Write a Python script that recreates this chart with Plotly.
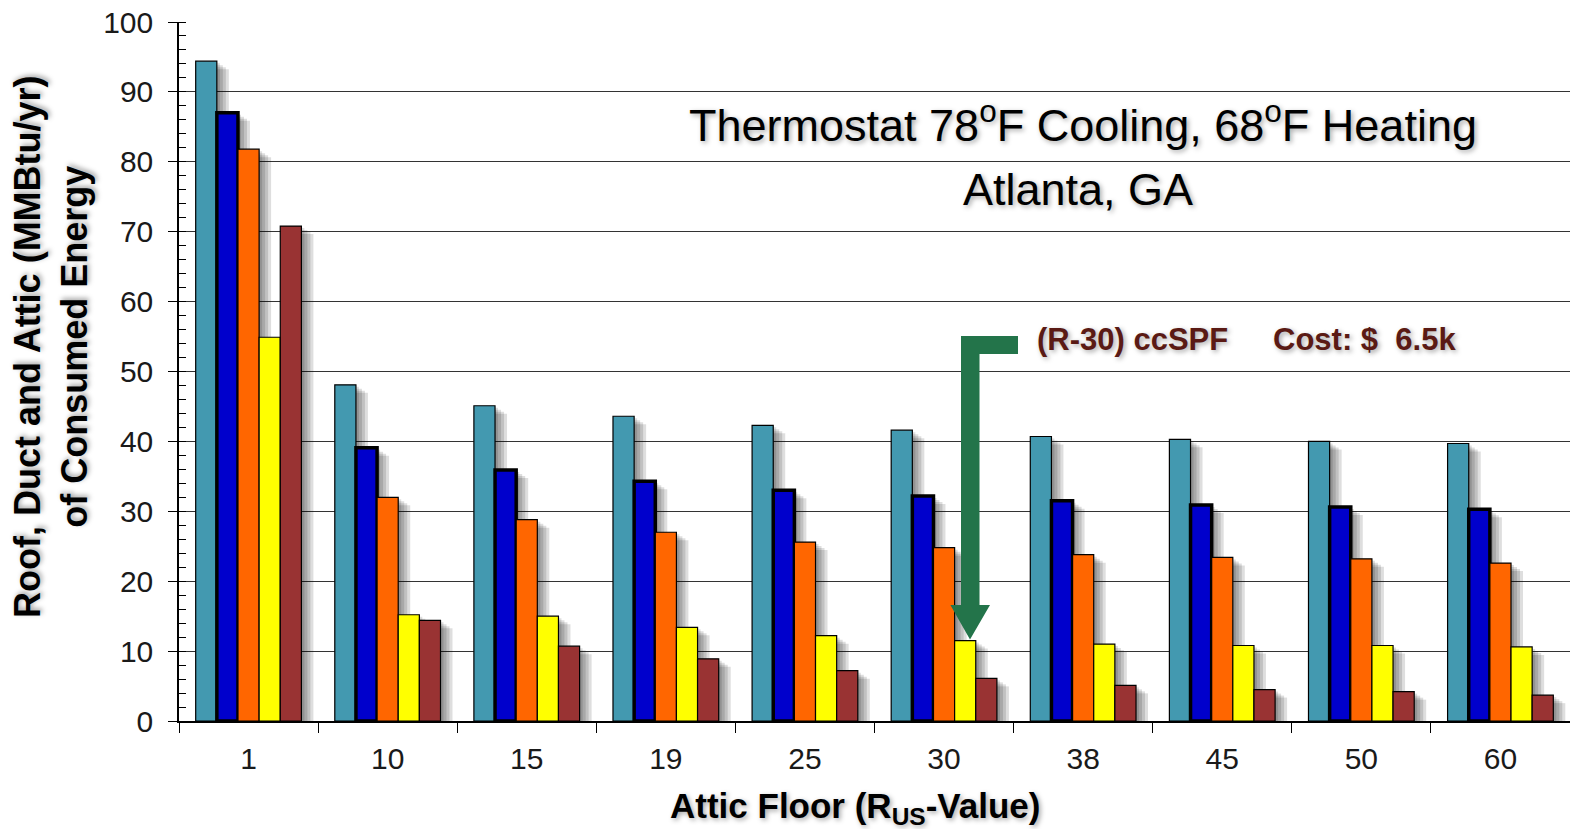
import plotly.graph_objects as go

categories = ["1", "10", "15", "19", "25", "30", "38", "45", "50", "60"]
teal_vals = [94.4, 48.1, 45.1, 43.6, 42.3, 41.6, 40.7, 40.3, 40.0, 39.7]
blue_vals = [87.0, 39.1, 35.9, 34.3, 33.0, 32.2, 31.5, 30.9, 30.6, 30.3]
orange_vals = [81.8, 32.0, 28.8, 27.0, 25.6, 24.8, 23.8, 23.4, 23.2, 22.6]
yellow_vals = [54.9, 15.2, 15.0, 13.4, 12.2, 11.5, 11.0, 10.8, 10.8, 10.6]
brown_vals = [70.8, 14.4, 10.7, 8.9, 7.2, 6.1, 5.1, 4.5, 4.2, 3.7]

series = [
    (teal_vals, "#4399b0", 1.2),
    (blue_vals, "#0000cc", 3.5),
    (orange_vals, "#ff6600", 1.2),
    (yellow_vals, "#ffff00", 1.2),
    (brown_vals, "#993333", 1.2),
]

W, H = 1570, 829
ML, MR, MT, MB = 179, 0, 22, 108
PW = W - ML - MR
PH = H - MT - MB
YMAX = 100
ncat = len(categories)
cat_px = PW / ncat

group_w = 0.76
bw = group_w / len(series)

fig = go.Figure()

# soft drop shadows (layers)
for k, (dx, dy) in enumerate([(3, 2), (6, 4), (9, 6), (12, 8)]):
    for i, (vals, col, lw) in enumerate(series):
        off = -group_w / 2 + i * bw + dx / cat_px
        fig.add_trace(go.Bar(
            x=categories, y=[max(v - dy * YMAX / PH, 0) for v in vals],
            width=bw, offset=off,
            marker=dict(color="rgba(0,0,0,0.13)", line=dict(width=0)),
            hoverinfo="skip", showlegend=False,
        ))

for i, (vals, col, lw) in enumerate(series):
    off = -group_w / 2 + i * bw
    fig.add_trace(go.Bar(
        x=categories, y=vals, width=bw, offset=off,
        marker=dict(color=col, line=dict(color="black", width=lw)),
        showlegend=False,
    ))


def px2paper_x(px):
    return (px - ML) / PW


def px2paper_y(py):
    return (H - MB - py) / PH


def px2data_y(py):
    return (H - MB - py) / PH * YMAX


# green elbow arrow
pts = [(961, 336), (1018, 336), (1018, 354), (979.5, 354), (979.5, 605),
       (990, 605), (970, 639.5), (950.4, 605), (961, 605)]
path = "M " + " L ".join(f"{px2paper_x(x):.5f},{px2data_y(y):.4f}" for x, y in pts) + " Z"
shapes = [dict(type="path", path=path, xref="paper", yref="y",
               fillcolor="#23744a", line=dict(width=0), layer="above")]

SH = "2px 2px 5px rgba(0,0,0,0.35)"
FAM = "Liberation Sans, Arial, sans-serif"


def ann(text, px, py, size, color="black", xanchor="center", angle=0, shadow=SH):
    return dict(text=text, x=px2paper_x(px), y=px2paper_y(py), xref="paper", yref="paper",
                xanchor=xanchor, yanchor="middle", textangle=angle, showarrow=False,
                font=dict(size=size, color=color, family=FAM, shadow=shadow))


annotations = [
    ann("Thermostat 78<sup>o</sup>F Cooling, 68<sup>o</sup>F Heating", 1083, 122, 45),
    ann("Atlanta, GA", 1078, 190, 45),
    ann("<b>(R-30) ccSPF</b>", 1035, 339, 31, color="#5a1a14", xanchor="left"),
    ann("<b>Cost: $&nbsp;&nbsp;6.5k</b>", 1271, 339, 31, color="#5a1a14", xanchor="left"),
    ann("<b>Roof, Duct and Attic (MMBtu/yr)<br>of Consumed Energy</b>", 51, 347, 36, angle=-90),
    ann("<b>Attic Floor (R<sub>US</sub>-Value)</b>", 855, 808, 35),
]

fig.update_layout(
    width=W, height=H,
    margin=dict(l=ML, r=MR, t=MT, b=MB),
    paper_bgcolor="white", plot_bgcolor="white",
    barmode="overlay",
    font=dict(family=FAM, color="#1a1a1a"),
    shapes=shapes, annotations=annotations,
    xaxis=dict(type="category", categoryorder="array", categoryarray=categories,
               range=[-0.5, ncat - 0.5], showgrid=False, showline=True,
               linecolor="black", linewidth=1.5, ticks="outside", tickson="boundaries",
               ticklen=10, tickcolor="black", tickwidth=1.2,
               tickfont=dict(size=30, color="#1a1a1a"), ticklabelstandoff=10),
    yaxis=dict(range=[0, YMAX], dtick=10, showgrid=True, gridcolor="#333333",
               gridwidth=1.2, showline=True, linecolor="black", linewidth=1.5,
               ticks="outside", ticklen=9, tickcolor="black", tickwidth=1.2,
               tickfont=dict(size=30, color="#1a1a1a"), ticklabelstandoff=9,
               zeroline=False,
               minor=dict(ticks="inside", dtick=2, ticklen=7, tickcolor="black",
                          tickwidth=1, showgrid=False)),
)

fig.write_html("out.html")
